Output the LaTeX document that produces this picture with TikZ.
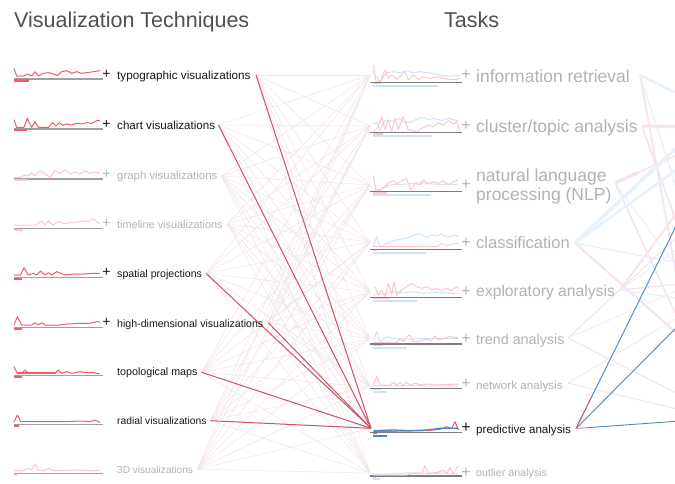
\documentclass[tikz,border=0pt]{standalone}
\usepackage{fontspec}
\setmainfont{Liberation Sans}
\usetikzlibrary{calc}
\definecolor{hired}{RGB}{240,92,104}
\definecolor{lightred}{RGB}{255,196,204}
\definecolor{lightblue}{RGB}{206,226,248}
\definecolor{steel}{RGB}{74,134,194}
\definecolor{basegray}{RGB}{160,160,160}
\definecolor{taskgray}{RGB}{125,125,125}
\definecolor{faintlink}{RGB}{244,226,234}
\definecolor{linkred}{RGB}{205,84,100}
\definecolor{txtblack}{RGB}{22,22,22}
\definecolor{txtgray}{RGB}{178,178,178}
\definecolor{titlegray}{RGB}{80,80,80}
\definecolor{rpink}{RGB}{246,228,235}
\definecolor{rblue}{RGB}{232,242,252}
\begin{document}
\begin{tikzpicture}[x=1pt,y=-1pt,
  lbl/.style={anchor=base west,inner sep=0pt,font=\fontsize{#1}{#1}\selectfont},
  plusl/.style={anchor=center,inner sep=0pt,font=\fontsize{14}{14}\selectfont},
  plust/.style={anchor=center,inner sep=0pt,font=\fontsize{16}{16}\selectfont},
  basel/.style={basegray,line width=1.3pt},
  baset/.style={taskgray,line width=1.1pt},
  sparkred/.style={hired,line width=1pt,line join=round},
  sparklight/.style={lightred,line width=1pt,line join=round},
  sparkblue/.style={lightblue,line width=1pt,line join=round},
  sparksteel/.style={steel,line width=1.3pt,line join=round},
  faint/.style={faintlink,line width=0.5pt},
  hilink/.style={linkred,line width=1pt},
  rp/.style={rpink,line width=#1},
  rb/.style={rblue,line width=#1},
  hiblue/.style={steel,line width=0.9pt}]
\useasboundingbox (0,0) rectangle (675,483);
\clip (0,0) rectangle (675,483);
\fill[white] (0,0) rectangle (675,483);

% ---------- anchor points ----------
\coordinate (va1) at (256,75);
\coordinate (va2) at (218.5,125);
\coordinate (va3) at (221.5,176);
\coordinate (va4) at (227,224);
\coordinate (va5) at (206,273.3);
\coordinate (va6) at (268.3,322.7);
\coordinate (va7) at (201.7,372.3);
\coordinate (va8) at (210.7,420.7);
\coordinate (va9) at (197.3,469.3);

\coordinate (ta1) at (370,75);
\coordinate (ta2) at (370,126);
\coordinate (ta3) at (370,185);
\coordinate (ta4) at (370,242);
\coordinate (ta5) at (370,292);
\coordinate (ta6) at (370,339);
\coordinate (ta7) at (370,387);
\coordinate (ta8) at (371,428.3);
\coordinate (ta9) at (370,473);

\coordinate (tb1) at (640,75);
\coordinate (tb2) at (642,126);
\coordinate (tb3) at (615,183);
\coordinate (tb4) at (575,243);
\coordinate (tb5) at (620,290);
\coordinate (tb6) at (568,338);
\coordinate (tb7) at (568,383);
\coordinate (tb8) at (576,428.5);

% off-page third column
\coordinate (r1) at (690,100);
\coordinate (r2) at (690,350);
\coordinate (r3) at (690,230);
\coordinate (r4) at (690,127);
\coordinate (r5) at (690,260);
\coordinate (r6) at (690,149);
\coordinate (r7) at (690,345);
\coordinate (r8) at (690,285);
\coordinate (r9) at (690,135);
\coordinate (r10) at (690,160);
\coordinate (r11) at (690,265);
\coordinate (r12) at (690,195);
\coordinate (r13) at (690,283);
\coordinate (r14) at (690,300);
\coordinate (r15) at (690,240);
\coordinate (r16) at (690,225);
\coordinate (r17) at (690,400);
\coordinate (r18) at (690,412);
\coordinate (r19) at (690,310);
\coordinate (h1) at (680,218);
\coordinate (h2) at (680,324);
\coordinate (h3) at (680,421);

% ---------- faint links between columns ----------
\foreach \i in {1,...,9}{
  \foreach \j in {1,...,9}{
    \draw[faint] (va\i) -- (ta\j);
  }
}
% ---------- highlighted links ----------
\foreach \i in {1,2,5,6,7,8}{
  \draw[hilink] (va\i) -- (ta8);
}

% ---------- right side faint links ----------
\draw[rb=2.5pt] (tb1) -- (r1);
\draw[rp=1.8pt] (tb1) -- (r2);
\draw[rb=1.4pt] (tb1) -- (r3);
\draw[rb=1.5pt] (tb2) -- (r4);
\draw[rp=3pt] (tb2) -- (r4);
\draw[rp=1.8pt] (tb2) -- (r5);
\draw[rp=1.5pt] (tb3) -- (r6);
\draw[rp=3.5pt] (tb3) -- ($(tb3)!0.3!(r6)$);
\draw[rp=1.5pt] (tb3) -- (r7);
\draw[rb=1.2pt] (tb3) -- (r8);
\draw[rb=3.5pt] (tb4) -- (r9);
\draw[rb=2.5pt] (tb4) -- (r10);
\draw[rp=2pt] (tb4) -- (r7);
\draw[rb=1.2pt] (tb4) -- (r11);
\draw[rp=1.8pt] (tb5) -- (r12);
\draw[rp=1.3pt] (tb5) -- (r13);
\draw[rb=1.2pt] (tb5) -- (r14);
\draw[rb=1pt] (tb5) -- (r15);
\draw[rp=1.1pt] (tb6) -- (r16);
\draw[rp=1.1pt] (tb6) -- (r17);
\draw[rb=1pt] (tb6) -- (r8);
\draw[rp=1pt] (tb7) -- (r18);
\draw[rp=0.8pt] (tb7) -- (r19);
% highlighted right links
\draw[hiblue] ($(tb8)!0.15!(h1)$) -- (h1);
\draw[linkred,line width=1.1pt] (tb8) -- ($(tb8)!0.15!(h1)$);
\draw[hiblue] (tb8) -- (h2);
\draw[hiblue] ($(tb8)!0.1!(h3)$) -- (h3);
\draw[linkred!60,line width=1pt] (tb8) -- ($(tb8)!0.1!(h3)$);

% ---------- titles ----------
\node[lbl=21.5,text=titlegray] (title1) at (14,27) {Visualization Techniques};
\node[lbl=21.5,text=titlegray] (title2) at (444,27) {Tasks};

% ---------- left sparklines ----------
\begin{scope}[shift={(0,50)},scale=1/3]
  % typographic
  \draw[basel] (42,87) -- (308,87);
  \fill[hired] (42,88) rectangle (87,95);
  \draw[sparkred] plot coordinates {(42,55) (50,78) (72,78) (82,72) (95,78) (105,65) (115,78) (130,70) (145,68) (160,72) (172,77) (185,65) (200,62) (215,70) (230,65) (245,70) (260,68) (280,65) (300,62)};
  % chart
  \draw[basel] (42,237) -- (308,237);
  \fill[hired] (42,238) rectangle (82,244);
  \draw[sparkred] plot coordinates {(42,208) (50,232) (72,232) (82,205) (95,232) (105,215) (115,232) (145,232) (158,218) (168,228) (178,218) (188,226) (200,222) (215,225) (230,220) (245,222) (260,218) (275,220) (290,212) (300,212)};
  % graph
  \draw[basel] (42,387) -- (308,387);
  \fill[lightred] (42,388) rectangle (80,394);
  \draw[sparklight] plot coordinates {(42,382) (60,382) (75,375) (85,378) (95,368) (105,378) (120,362) (135,372) (150,382) (165,362) (180,370) (195,360) (210,372) (225,366) (240,372) (255,362) (270,370) (285,367) (300,368)};
\end{scope}
\begin{scope}[shift={(0,200)},scale=1/3]
  % timeline
  \draw[basel] (42,85) -- (308,85);
  \fill[lightred] (42,86) rectangle (68,92);
  \draw[sparklight] plot coordinates {(42,75) (110,75) (125,62) (135,75) (145,62) (158,75) (175,65) (190,70) (215,68) (240,65) (255,62) (265,65) (278,56) (300,72)};
  % spatial
  \draw[basel] (42,232) -- (308,232);
  \fill[hired] (42,233) rectangle (65,240);
  \draw[sparkred] plot coordinates {(42,225) (62,225) (72,203) (85,225) (100,220) (110,225) (122,213) (135,225) (145,218) (155,225) (170,215) (195,225) (220,222) (250,222) (280,220) (300,220)};
  % high-dimensional
  \draw[basel] (42,382) -- (308,382);
  \fill[hired] (42,383) rectangle (65,390);
  \draw[sparkred] plot coordinates {(42,375) (52,350) (65,375) (95,375) (105,368) (115,375) (125,368) (135,375) (180,375) (200,372) (240,370) (270,370) (290,365) (300,366)};
\end{scope}
\begin{scope}[shift={(0,340)},scale=1/3]
  % topological
  \draw[basel] (42,107) -- (308,107);
  \fill[hired] (42,108) rectangle (65,115);
  \fill[hired] (55,97) rectangle (168,103);
  \draw[sparkred] plot coordinates {(42,80) (52,100) (65,100) (75,90) (85,100) (165,100) (175,90) (185,100) (200,95) (215,100) (240,95) (260,98) (280,98) (300,102)};
  % radial
  \draw[basel] (42,253) -- (308,253);
  \fill[hired] (42,254) rectangle (56,262);
  \draw[sparkred] plot coordinates {(42,245) (52,225) (62,245) (200,245) (240,243) (270,245) (285,240) (300,247)};
  % 3D
  \draw[basel] (42,400) -- (308,400);
  \fill[lightred] (42,401) rectangle (52,408);
  \draw[sparklight] plot coordinates {(42,392) (70,392) (85,385) (95,390) (105,372) (115,392) (130,392) (145,385) (160,392) (200,392) (230,390) (260,392) (300,392)};
\end{scope}

% ---------- task sparklines ----------
\begin{scope}[shift={(360,50)},scale=1/3]
  % information retrieval
  \draw[baset] (30,97) -- (305,97);
  \fill[lightred] (40,99) rectangle (62,103);
  \fill[lightblue] (40,105) rectangle (233,111);
  \draw[sparkblue] plot coordinates {(40,65) (50,80) (60,95) (80,68) (100,65) (120,68) (140,62) (160,68) (180,65) (200,68) (220,70) (240,75) (260,78) (280,78) (300,75)};
  \draw[sparklight] plot coordinates {(40,45) (48,95) (62,92) (75,60) (85,85) (95,75) (110,88) (125,75) (135,65) (145,90) (160,75) (175,88) (190,80) (210,85) (230,80) (250,85) (270,88) (290,88) (300,85)};
  % cluster
  \draw[baset] (30,248) -- (305,248);
  \fill[lightred] (40,250) rectangle (68,254);
  \fill[lightblue] (40,256) rectangle (215,262);
  \draw[sparkblue] plot coordinates {(40,222) (50,218) (60,240) (70,215) (85,210) (100,215) (115,205) (130,215) (150,218) (165,210) (185,202) (205,208) (225,205) (245,212) (265,205) (285,210) (295,212)};
  \draw[sparklight] plot coordinates {(40,245) (55,230) (65,200) (75,240) (85,210) (95,245) (105,205) (115,238) (130,200) (145,240) (170,245) (185,235) (205,225) (220,230) (235,218) (250,225) (265,212) (280,222) (290,215) (300,245)};
  % NLP
  \draw[baset] (30,425) -- (305,425);
  \fill[lightred] (40,427) rectangle (82,431);
  \fill[lightblue] (40,433) rectangle (212,439);
  \draw[sparkblue] plot coordinates {(40,420) (60,418) (80,410) (100,402) (120,405) (140,402) (160,400) (180,398) (200,400) (220,402) (240,405) (260,402) (280,403) (295,405)};
  \draw[sparklight] plot coordinates {(40,378) (48,420) (60,420) (75,410) (85,400) (100,392) (112,402) (125,392) (140,385) (152,420) (165,400) (180,405) (190,390) (205,402) (220,395) (235,400) (250,392) (265,405) (280,395) (295,390)};
\end{scope}
\begin{scope}[shift={(360,220)},scale=1/3]
  % classification
  \draw[baset] (30,88) -- (305,88);
  \fill[lightred] (40,90) rectangle (50,94);
  \fill[lightblue] (40,96) rectangle (197,102);
  \draw[sparkblue] plot coordinates {(40,80) (50,50) (60,80) (80,70) (110,60) (140,55) (160,45) (180,42) (200,52) (215,45) (230,48) (245,42) (260,52) (275,48) (290,45) (295,50)};
  \draw[sparklight] plot coordinates {(40,80) (230,80) (245,70) (260,78) (275,72) (290,70) (295,72)};
  % exploratory
  \draw[baset] (30,232) -- (305,232);
  \fill[lightred] (40,234) rectangle (87,238);
  \fill[lightblue] (40,240) rectangle (170,246);
  \draw[sparkblue] plot coordinates {(40,225) (60,222) (80,220) (100,215) (130,218) (160,215) (190,220) (220,218) (250,218) (280,220) (295,220)};
  \draw[sparklight] plot coordinates {(45,200) (55,225) (65,210) (75,230) (85,190) (95,225) (102,185) (110,225) (125,210) (140,200) (155,190) (170,200) (185,205) (200,200) (215,210) (230,205) (245,212) (260,205) (275,212) (290,200) (295,205)};
  % trend
  \draw[baset] (30,372) -- (305,372);
  \fill[lightred] (40,374) rectangle (68,378);
  \fill[lightblue] (40,380) rectangle (140,386);
  \draw[sparkblue] plot coordinates {(40,360) (50,335) (60,365) (80,350) (100,355) (150,358) (200,355) (250,355) (295,355)};
  \draw[sparklight] plot coordinates {(40,368) (110,368) (120,355) (130,365) (140,350) (150,345) (160,365) (175,365) (200,358) (215,362) (225,348) (235,360) (250,355) (265,350) (280,352) (295,352)};
\end{scope}
\begin{scope}[shift={(360,360)},scale=1/3]
  % network
  \draw[baset] (30,85) -- (305,85);
  \fill[lightred] (40,87) rectangle (62,91);
  \fill[lightblue] (40,93) rectangle (82,99);
  \draw[sparkblue] plot coordinates {(40,78) (150,77) (295,78)};
  \draw[sparklight] plot coordinates {(40,75) (50,50) (60,75) (90,75) (100,68) (110,75) (120,68) (130,75) (140,67) (150,75) (165,70) (185,75) (200,72) (230,75) (270,73) (295,72)};
  % predictive
  \draw[baset] (30,217) -- (305,217);
  \fill[hired] (40,219) rectangle (50,223);
  \fill[steel] (40,225) rectangle (80,232);
  \draw[sparkred] plot coordinates {(40,215) (200,212) (240,208) (260,200) (275,205) (285,185) (295,210)};
  \draw[sparksteel] plot coordinates {(40,212) (100,210) (150,212) (200,210) (240,205) (275,205) (295,205)};
  % outlier
  \draw[baset] (30,348) -- (305,348);
  \fill[lightred] (40,350) rectangle (48,353);
  \fill[lightblue] (40,355) rectangle (60,361);
  \draw[sparkblue] plot coordinates {(40,342) (100,342) (150,338) (200,340) (250,340) (295,342)};
  \draw[sparklight] plot coordinates {(40,345) (140,345) (160,340) (185,340) (195,318) (205,340) (230,338) (250,330) (260,340) (270,322) (280,340) (292,322) (295,320)};
\end{scope}

% ---------- left labels ----------
\node[lbl=11.7,text=txtblack] (v1) at (117,79.5) {typographic visualizations};
\node[lbl=11.6,text=txtblack] (v2) at (117,129) {chart visualizations};
\node[lbl=11.4,text=txtgray] (v3) at (117,179) {graph visualizations};
\node[lbl=10.9,text=txtgray] (v4) at (117,228.3) {timeline visualizations};
\node[lbl=10.6,text=txtblack] (v5) at (117,277.3) {spatial projections};
\node[lbl=10.6,text=txtblack] (v6) at (117,327.3) {high-dimensional visualizations};
\node[lbl=10.7,text=txtblack] (v7) at (117,375.7) {topological maps};
\node[lbl=10.3,text=txtblack] (v8) at (117,424.3) {radial visualizations};
\node[lbl=10.1,text=txtgray] (v9) at (117,473.3) {3D visualizations};

\node[plusl,text=txtblack] (pv1) at (106.5,74.5) {+};
\node[plusl,text=txtblack] (pv2) at (106.5,124) {+};
\node[plusl,text=txtgray] (pv3) at (106.5,174) {+};
\node[plusl,text=txtgray] (pv4) at (106.5,223.3) {+};
\node[plusl,text=txtblack] (pv5) at (106.5,272.3) {+};
\node[plusl,text=txtblack] (pv6) at (106.5,322.3) {+};

% ---------- task labels ----------
\node[lbl=17.5,text=txtgray] (t1) at (476,82.3) {information retrieval};
\node[lbl=17.5,text=txtgray] (t2) at (476,132.3) {cluster/topic analysis};
\node[lbl=17.5,text=txtgray] (t3) at (476,181.7) {natural language};
\node[lbl=17.5,text=txtgray] (t3b) at (476,200) {processing (NLP)};
\node[lbl=16.5,text=txtgray] (t4) at (476,248.3) {classification};
\node[lbl=15.7,text=txtgray] (t5) at (476,296.7) {exploratory analysis};
\node[lbl=14.3,text=txtgray] (t6) at (476,344) {trend analysis};
\node[lbl=11.7,text=txtgray] (t7) at (476,389) {network analysis};
\node[lbl=11.6,text=txtblack] (t8) at (476,433.3) {predictive analysis};
\node[lbl=10.7,text=txtgray] (t9) at (476,476.7) {outlier analysis};

\node[plust,text=txtgray] (pt1) at (466,75) {+};
\node[plust,text=txtgray] (pt2) at (466,126) {+};
\node[plust,text=txtgray] (pt3) at (466,185) {+};
\node[plust,text=txtgray] (pt4) at (466,242.7) {+};
\node[plust,text=txtgray] (pt5) at (466,291.7) {+};
\node[plust,text=txtgray] (pt6) at (466,339) {+};
\node[plust,text=txtgray] (pt7) at (466,384) {+};
\node[plust,text=txtblack] (pt8) at (466,428.3) {+};
\node[plust,text=txtgray] (pt9) at (466,472.7) {+};
\end{tikzpicture}
\end{document}
